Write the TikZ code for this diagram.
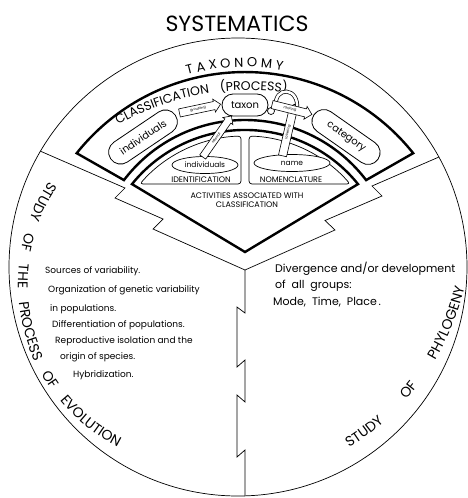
\documentclass[tikz,border=0pt]{standalone}
\usepackage{fontspec}
\setmainfont{Poppins}
\usetikzlibrary{shapes.misc,shapes.geometric,shapes.arrows,decorations.text}

\tikzset{
  bold line/.style={line width=2.4pt, line join=miter},
  thin line/.style={line width=0.7pt},
  pill/.style={draw, line width=0.8pt, rounded rectangle, fill=white, inner sep=1pt,
    font=\fontsize{10}{10}\selectfont},
  oval/.style={draw, line width=0.7pt, ellipse, inner sep=0pt, fill=white,
    font=\fontsize{7.5}{7.5}\selectfont},
  tag/.style={single arrow, draw, fill=white, line width=0.6pt, inner xsep=1pt,
    inner ysep=2pt, single arrow head extend=2.5pt, font=\fontsize{3.5}{3.5}\selectfont},
  body/.style={anchor=base west, inner sep=0pt},
}

\begin{document}
\begin{tikzpicture}[x=1pt, y=1pt]
\useasboundingbox (0,0) rectangle (468,-498);

% title
\node[font=\fontsize{22}{22}\selectfont] (title) at (237,-24) {SYSTEMATICS};

% circle and dividers
\draw[thin line] (238,-267) circle[radius=229];
\draw[thin line] (40,-151) -- (125,-188) -- (115,-198) -- (163,-219) -- (153,-229) -- (245,-270);
\draw[thin line] (439,-157) -- (372,-186) -- (382,-196) -- (325,-220.5) -- (335,-230) -- (245,-270);
\draw[thin line] (245,-270) -- (245,-313) -- (237,-307) -- (237,-367) -- (245,-360)
  -- (245,-402) -- (237,-395) -- (237,-457) -- (245,-450) -- (245,-496);

% taxonomy wedge
\draw[bold line] (76.7,-153.2) arc[start angle=141.5, end angle=38.5, radius=215]
  -- (366.1,-180.1) arc[start angle=37.2, end angle=142.8, radius=152] -- cycle;
\draw[bold line] (245,-252) -- (132,-184.1) arc[start angle=141.2, end angle=38.8, radius=145] -- cycle;

% identification / nomenclature
\draw[thin line, rounded corners=3pt] (241,-184) -- (139.9,-184) arc[start angle=139.1, end angle=91.6, radius=139] -- cycle;
\draw[thin line, rounded corners=3pt] (249,-184) -- (350.1,-184) arc[start angle=40.9, end angle=88.35, radius=139] -- cycle;
\node[font=\fontsize{8}{8}\selectfont] (ident) at (201,-180) {IDENTIFICATION};
\node[font=\fontsize{8}{8}\selectfont] (nomen) at (291,-180) {NOMENCLATURE};
\node[font=\fontsize{8}{9.5}\selectfont, align=center] (activ) at (247,-200) {ACTIVITIES ASSOCIATED WITH\\CLASSIFICATION};

% curved labels
\path[decorate, decoration={text along path, text align=center,
  text={|\fontsize{13}{13}\selectfont|T A X O N O M Y}}]
  (180,-76.8) arc[start angle=107.2, end angle=78.2, radius=220];
\path[decorate, decoration={text along path, text align={fit to path stretching spaces},
  text={|\fontsize{12.5}{12.5}\selectfont|CLASSIFICATION (PROCESS)}}]
  (118.2,-125) arc[start angle=119.7, end angle=82, radius=266];
\path[decorate, decoration={text along path, text align={fit to path stretching spaces},
  text={|\fontsize{14}{14}\selectfont|STUDY OF THE PROCESS OF EVOLUTION}}]
  (49.6,-181.1) arc[start angle=145.8, end angle=243, radius=183];
\path[decorate, decoration={text along path, text align={fit to path stretching spaces},
  text={|\fontsize{14}{14}\selectfont|STUDY OF PHYLOGENY}}]
  (349.2,-447.4) arc[start angle=-58.5, end angle=-13, radius=255];

% classification
\node[pill, rotate=34, minimum width=80pt, minimum height=24pt] (indiv) at (143,-137) {individuals};
\node[pill, minimum width=48pt, minimum height=22pt] (taxon) at (245,-105) {taxon};
\node[pill, rotate=-35, minimum width=80pt, minimum height=24pt] (categ) at (346,-137) {category};
\node[oval, minimum width=66pt, minimum height=17pt] (single) at (205,-165) {individuals};
\node[oval, minimum width=76pt, minimum height=17pt] (name) at (292,-163) {name};

\node[tag, rotate=12, minimum height=42pt] (grouping) at (198,-109) {grouping};
\node[tag, rotate=55, minimum height=50pt] (referral) at (216,-138) {referral};
\node[tag, rotate=77, minimum height=53pt] (labeling) at (288,-132) {labeling};
\draw[thin line, double, double distance=2.5pt] (276,-107) .. controls (273,-86) and (300,-86) .. (297,-110);
\draw[thin line] (271,-111) circle[radius=3.5];
\node[tag, rotate=-14, minimum height=41pt] (ranking) at (290,-109) {ranking};

% evolution
\node[body, font=\fontsize{9}{9}\selectfont] (ev1) at (45,-273) {Sources of variability.};
\node[body, font=\fontsize{9}{9}\selectfont] (ev2) at (48,-292) {Organization of genetic variability};
\node[body, font=\fontsize{9}{9}\selectfont] (ev3) at (50,-311) {in populations.};
\node[body, font=\fontsize{9}{9}\selectfont] (ev4) at (52,-327) {Differentiation of populations.};
\node[body, font=\fontsize{9}{9}\selectfont] (ev5) at (55,-343) {Reproductive isolation and the};
\node[body, font=\fontsize{9}{9}\selectfont] (ev6) at (60,-359) {origin of species.};
\node[body, font=\fontsize{9}{9}\selectfont] (ev7) at (73,-377) {Hybridization.};

% phylogeny
\node[body, font=\fontsize{11}{11}\selectfont] (ph1) at (275,-272) {Divergence and/or development};
\node[body, font=\fontsize{11}{11}\selectfont] (ph2) at (275,-288) {of\ \ all\ \ groups:};
\node[body, font=\fontsize{11}{11}\selectfont] (ph3) at (273,-305) {Mode,\ \ Time,\ \ Place\,.};
\end{tikzpicture}
\end{document}
